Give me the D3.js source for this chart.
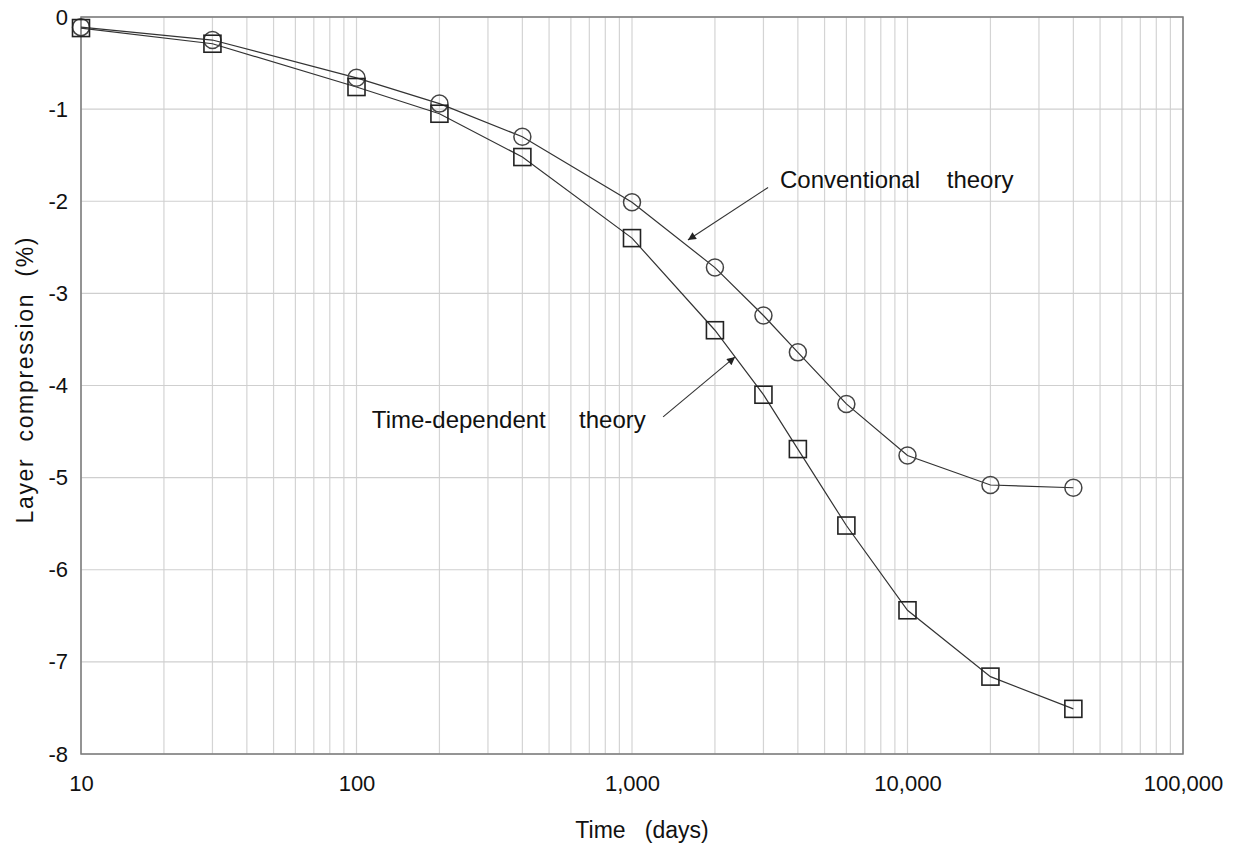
<!DOCTYPE html>
<html><head><meta charset="utf-8">
<script src="https://cdn.jsdelivr.net/npm/d3@7"></script>
<style>
html,body{margin:0;padding:0;background:#fff;}
svg text{font-family:Arial,"Liberation Sans",sans-serif;fill:#111;}
</style></head>
<body><svg id="chart" width="1233" height="846"></svg>
<script>
const days = [10, 30, 100, 200, 400, 1000, 2000, 3000, 4000, 6000, 10000, 20000, 40000];
const conventional = [-0.11, -0.25, -0.66, -0.94, -1.30, -2.01, -2.72, -3.24, -3.64, -4.20, -4.76, -5.08, -5.11];
const timeDependent = [-0.12, -0.29, -0.76, -1.05, -1.52, -2.40, -3.40, -4.10, -4.69, -5.52, -6.44, -7.16, -7.51];
const xTickValues = [10, 100, 1000, 10000, 100000];
const yTickValues = [0, -1, -2, -3, -4, -5, -6, -7, -8];
const xTitle = "Time   (days)";
const yTitle = "Layer  compression  (%)";
const annotations = [
  {text: "Conventional    theory", tx: 3444, ty: -1.86, from: [3119, -1.85], to: [1596, -2.42]},
  {text: "Time-dependent     theory", tx: 113.7, ty: -4.46, from: [1297, -4.34], to: [2366, -3.69]}
];

const svg = d3.select("#chart");
const m = {left: 81, top: 17, right: 50, bottom: 92};
const W = 1233, H = 846;
const x = d3.scaleLog().domain([10, 100000]).range([m.left, W - m.right]);
const y = d3.scaleLinear().domain([-8, 0]).range([H - m.bottom, m.top]);

// grid
const g = svg.append("g");
g.selectAll("line.vx").data(x.ticks()).join("line")
  .attr("x1", d => x(d)).attr("x2", d => x(d))
  .attr("y1", y(0)).attr("y2", y(-8))
  .attr("stroke", "#d4d4d4").attr("stroke-width", 1.2);
g.selectAll("line.hy").data(yTickValues).join("line")
  .attr("x1", x(10)).attr("x2", x(100000))
  .attr("y1", d => y(d)).attr("y2", d => y(d))
  .attr("stroke", "#cfcfcf").attr("stroke-width", 1.2);

// frame
svg.append("rect").attr("x", x(10)).attr("y", y(0))
  .attr("width", x(100000) - x(10)).attr("height", y(-8) - y(0))
  .attr("fill", "none").attr("stroke", "#7a7a7a").attr("stroke-width", 1.5);

// axes labels
const xAxis = d3.axisBottom(x).tickValues(xTickValues).tickFormat(d3.format(",")).tickSize(0).tickPadding(21);
const xa = svg.append("g").attr("transform", `translate(0,${y(-8)})`).call(xAxis);
xa.select(".domain").remove();
xa.selectAll("text").attr("font-size", 22).attr("fill", "#111");
const yAxis = d3.axisLeft(y).tickValues(yTickValues).tickFormat(d => String(d)).tickSize(0).tickPadding(13);
const ya = svg.append("g").attr("transform", `translate(${x(10)},0)`).call(yAxis);
ya.select(".domain").remove();
ya.selectAll("text").attr("font-size", 22).attr("fill", "#111");

svg.append("text").attr("x", 642).attr("y", 838)
  .attr("text-anchor", "middle").attr("font-size", 23).style("white-space", "pre").text(xTitle);
svg.append("text").attr("transform", `translate(33,${(y(0) + y(-8)) / 2 - 5}) rotate(-90)`)
  .attr("text-anchor", "middle").attr("font-size", 23).attr("textLength", 286).attr("lengthAdjust", "spacing")
  .style("white-space", "pre").text(yTitle);

// series
const line = d3.line().x((d, i) => x(days[i])).y(d => y(d));
[conventional, timeDependent].forEach(s => {
  svg.append("path").datum(s).attr("d", line).attr("fill", "none")
    .attr("stroke", "#333").attr("stroke-width", 1.2);
});
svg.selectAll("circle.c").data(conventional).join("circle")
  .attr("cx", (d, i) => x(days[i])).attr("cy", d => y(d)).attr("r", 8.5)
  .attr("fill", "none").attr("stroke", "#444").attr("stroke-width", 1.5);
const sq = 17;
svg.selectAll("rect.s").data(timeDependent).join("rect")
  .attr("x", (d, i) => x(days[i]) - sq / 2).attr("y", d => y(d) - sq / 2)
  .attr("width", sq).attr("height", sq)
  .attr("fill", "none").attr("stroke", "#222").attr("stroke-width", 1.6);

// annotations
svg.append("defs").append("marker").attr("id", "ah")
  .attr("viewBox", "0 0 10 10").attr("refX", 10).attr("refY", 5)
  .attr("markerWidth", 10).attr("markerHeight", 8).attr("markerUnits", "userSpaceOnUse")
  .attr("orient", "auto").append("path").attr("d", "M0,0 L10,5 L0,10 Z").attr("fill", "#222");
annotations.forEach(a => {
  svg.append("line").attr("x1", x(a.from[0])).attr("y1", y(a.from[1]))
    .attr("x2", x(a.to[0])).attr("y2", y(a.to[1]))
    .attr("stroke", "#333").attr("stroke-width", 1.1).attr("marker-end", "url(#ah)");
  svg.append("text").attr("x", x(a.tx)).attr("y", y(a.ty))
    .attr("font-size", 24).style("white-space", "pre").text(a.text);
});
</script></body></html>
